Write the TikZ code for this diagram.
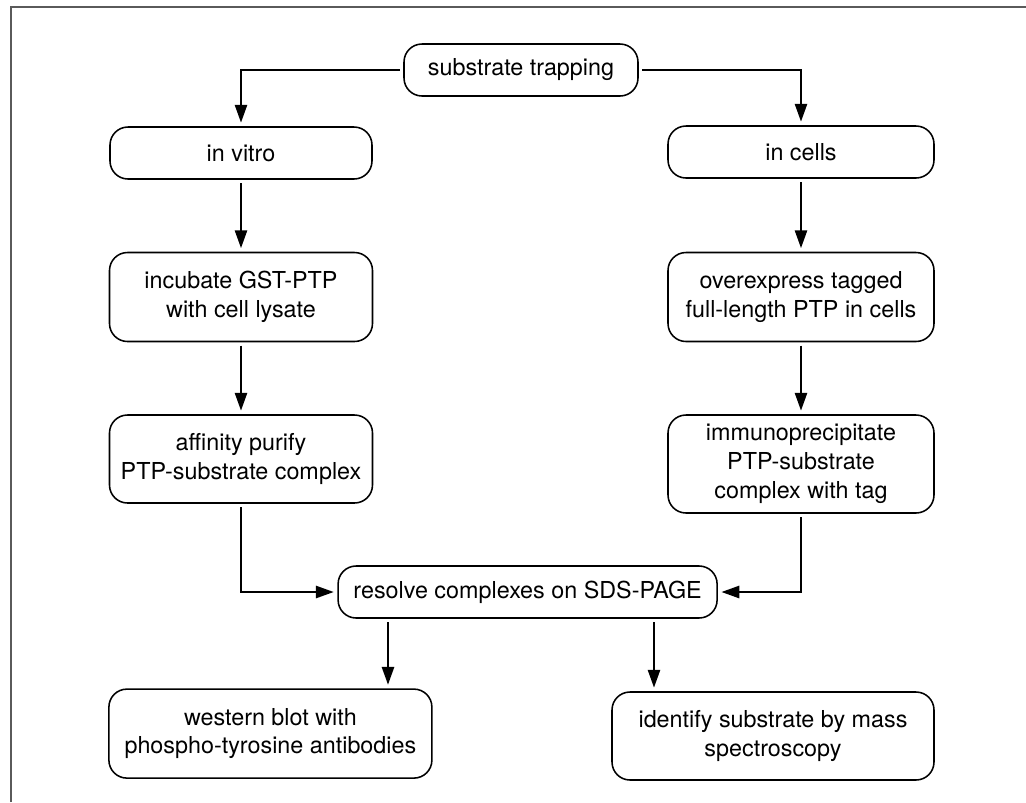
\documentclass[tikz,border=0pt]{standalone}
\usepackage{fontspec}
\setmainfont{TeX Gyre Heros}
\usetikzlibrary{arrows.meta}
\definecolor{framegray}{RGB}{90,90,90}

\begin{document}
\begin{tikzpicture}[inner sep=0pt,
stepbox/.style={draw,rectangle,rounded corners=0.45cm,line width=1.1pt,outer sep=3pt,align=center,minimum height=1.3cm,font=\fontsize{16.6}{20.5}\selectfont},
flow/.style={-{Triangle[length=0.45cm,width=0.3cm]},line width=1.9pt}]

\useasboundingbox (0,0) rectangle (25.65,-20.05);
\draw[framegray,line width=1.4pt] (0.275,-20.05) -- (0.275,-0.17) -- (25.65,-0.17);

\draw (13.025,-1.75) node[stepbox,minimum width=5.85cm] (trap) {substrate trapping};
\draw (6.025,-3.825) node[stepbox,minimum width=6.55cm] (vitro) {in vitro};
\draw (20.025,-3.8) node[stepbox,minimum width=6.65cm] (cells) {in cells};
\draw (6.025,-7.425) node[stepbox,minimum width=6.575cm,minimum height=2.225cm] (incub) {incubate GST-PTP\\with cell lysate};
\draw (20.025,-7.425) node[stepbox,minimum width=6.65cm,minimum height=2.225cm] (overexp) {overexpress tagged\\full-length PTP in cells};
\draw (6.025,-11.475) node[stepbox,minimum width=6.575cm,minimum height=2.2cm] (affin) {affinity purify\\PTP-substrate complex};
\draw (20.025,-11.6) node[stepbox,minimum width=6.65cm,minimum height=2.45cm] (immuno) {immunoprecipitate\\PTP-substrate\\complex with tag};
\draw (13.19,-14.8) node[stepbox,minimum width=9.475cm] (sds) {resolve complexes on SDS-PAGE};
\draw (6.76,-18.34) node[stepbox,minimum width=8.075cm,minimum height=2.225cm] (western) {western blot with\\phospho-tyrosine antibodies};
\draw (19.325,-18.4) node[stepbox,minimum width=8.05cm,minimum height=2.2cm] (ident) {identify substrate by mass\\spectroscopy};

\draw[flow] (trap.west) -| (vitro.north);
\draw[flow] (trap.east) -| (cells.north);
\draw[flow] (vitro) -- (incub);
\draw[flow] (incub) -- (affin);
\draw[flow] (cells) -- (overexp);
\draw[flow] (overexp) -- (immuno);
\draw[flow] (affin.south) |- (sds.west);
\draw[flow] (immuno.south) |- (sds.east);
\draw[flow] (sds.south -| 9.7,0) -- (western.north -| 9.7,0);
\draw[flow] (sds.south -| 16.35,0) -- (ident.north -| 16.35,0);
\end{tikzpicture}
\end{document}
